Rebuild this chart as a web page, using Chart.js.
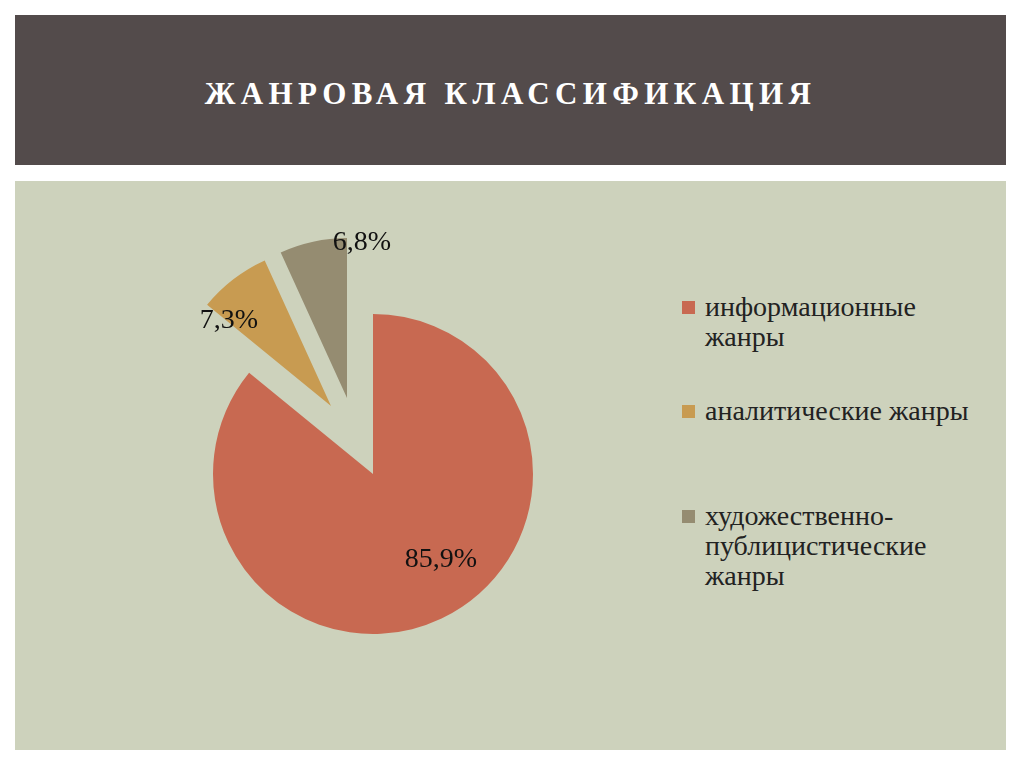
<!DOCTYPE html>
<html>
<head>
<meta charset="utf-8">
<script src="https://cdn.jsdelivr.net/npm/chart.js@4"></script>
<style>
  html, body { margin:0; padding:0; background:#ffffff; width:1024px; height:767px; overflow:hidden; position:relative; }
  #header { position:absolute; left:15px; top:15px; width:991px; height:150px; background:#534B4B; }
  #title { position:absolute; left:0; width:991px; top:62px; text-align:center; color:#ffffff;
    font-family:"Liberation Serif","DejaVu Serif",serif; font-weight:bold; font-size:31px; letter-spacing:5.4px; line-height:34px; }
  #content { position:absolute; left:15px; top:181px; width:991px; height:569px; background:#CDD2BC; }
  canvas.pie { position:absolute; }
  #legend { position:absolute; left:682px; top:292px; width:320px; font-family:"Liberation Serif","DejaVu Serif",serif;
    font-size:28px; line-height:30px; color:#222222; }
  .item { position:relative; padding-left:23px; width:275px; }
  .item .box { position:absolute; left:0; top:9px; width:13px; height:13px; }
  .item:nth-child(2) { margin-top:44px; }
  .item:nth-child(3) { margin-top:75px; }
</style>
</head>
<body>
<div id="header"><div id="title">ЖАНРОВАЯ КЛАССИФИКАЦИЯ</div></div>
<div id="content"></div>
<div id="legend"></div>
<script>
// ---- data ----
const categories = ["информационные жанры", "аналитические жанры", "художественно-публицистические жанры"];
const shares = [85.9, 7.3, 6.8];
const valueLabels = ["85,9%", "7,3%", "6,8%"];
const sliceColors = ["#C86951", "#C89B51", "#958C71"];

// ---- style: pie centre, size, explosion and label placement ----
const pieCenter = { x: 355.9, y: 437.4 };
const pieRadius = 160;
const explode = [40, 40, 40];
const labelAngleFrac = [0.458, 0.02, 1.224];
const labelRadiusFrac = [0.685, 0.83, 0.973];
const CANVAS = 400;

const total = shares.reduce((a, b) => a + b, 0);
let cum = 0;
const midAngles = shares.map(v => { const m = (cum + v / 2) / total * 2 * Math.PI; cum += v; return m; });

function labelPluginFor(idx) {
  return {
    id: 'sliceLabel' + idx,
    afterDatasetsDraw(chart) {
      const ctx = chart.ctx;
      const arc = chart.getDatasetMeta(0).data[idx];
      const p = arc.getProps(['x', 'y', 'startAngle', 'endAngle', 'outerRadius'], true);
      const a = p.startAngle + labelAngleFrac[idx] * (p.endAngle - p.startAngle);
      const r = labelRadiusFrac[idx] * p.outerRadius;
      ctx.save();
      ctx.font = '28px "Liberation Serif", serif';
      ctx.fillStyle = '#111111';
      ctx.textAlign = 'center';
      ctx.textBaseline = 'middle';
      ctx.fillText(valueLabels[idx], p.x + Math.cos(a) * r, p.y + Math.sin(a) * r);
      ctx.restore();
    }
  };
}

// one exploded slice per layer, all drawn by Chart.js from the same data
shares.forEach((_, idx) => {
  const cv = document.createElement('canvas');
  cv.className = 'pie';
  cv.width = CANVAS; cv.height = CANVAS;
  const cx = pieCenter.x + explode[idx] * Math.sin(midAngles[idx]);
  const cy = pieCenter.y - explode[idx] * Math.cos(midAngles[idx]);
  cv.style.left = (cx - CANVAS / 2) + 'px';
  cv.style.top = (cy - CANVAS / 2) + 'px';
  document.body.insertBefore(cv, document.getElementById('legend'));
  new Chart(cv, {
    type: 'pie',
    data: {
      labels: categories,
      datasets: [{
        data: shares,
        backgroundColor: sliceColors.map((c, j) => (j === idx ? c : 'rgba(0,0,0,0)')),
        borderWidth: 0,
        radius: pieRadius
      }]
    },
    options: {
      responsive: false,
      animation: false,
      devicePixelRatio: 1,
      events: [],
      layout: { padding: 0 },
      plugins: { legend: { display: false }, tooltip: { enabled: false } }
    },
    plugins: [labelPluginFor(idx)]
  });
});

// HTML legend built from the same arrays
const lg = document.getElementById('legend');
categories.forEach((c, i) => {
  const d = document.createElement('div');
  d.className = 'item';
  const b = document.createElement('span');
  b.className = 'box';
  b.style.background = sliceColors[i];
  d.appendChild(b);
  d.appendChild(document.createTextNode(c));
  lg.appendChild(d);
});
</script>
</body>
</html>
